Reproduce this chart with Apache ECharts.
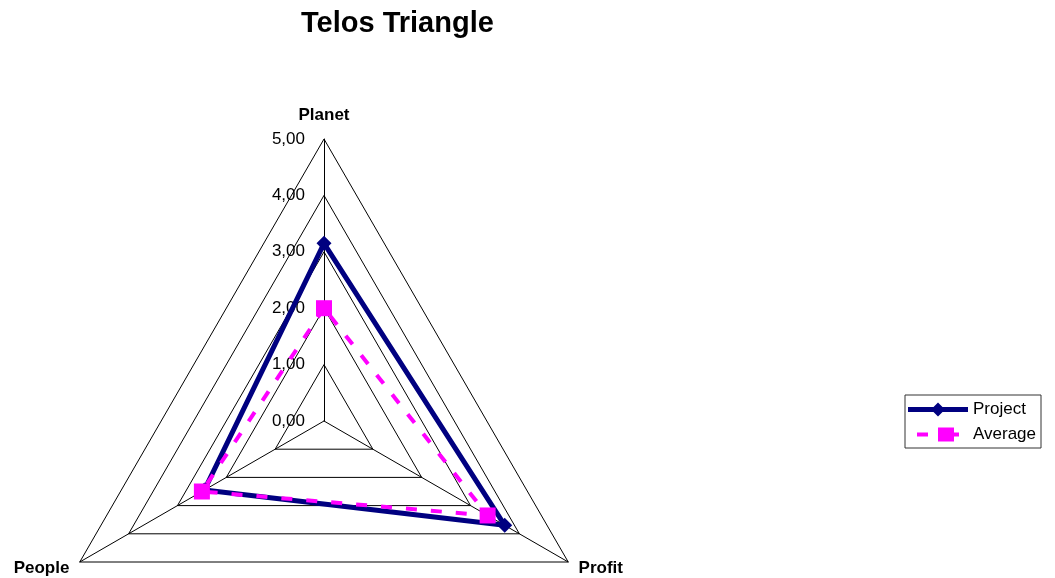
<!DOCTYPE html>
<html>
<head>
<meta charset="utf-8">
<script src="https://cdn.jsdelivr.net/npm/echarts@6/dist/echarts.min.js"></script>
<style>
  html, body { margin: 0; padding: 0; background: #fff; }
  #chart { width: 1055px; height: 578px; }
</style>
</head>
<body>
<div id="chart"></div>
<script>
// indicators in the order ECharts places them (counter-clockwise from the top)
var indicators = ['Planet', 'People', 'Profit'];
var projectValues = [3.15, 2.45, 3.7];
var averageValues = [2.0, 2.5, 3.35];
var scaleTicks = [0, 1, 2, 3, 4, 5];

// legend icons: line with marker, like the spreadsheet legend
var projectIcon = 'path://M0,4.5L60,4.5L60,9.5L0,9.5Z M30,0L37,7L30,14L23,7Z';
var averageIcon = 'path://M4,5L15,5L15,9L4,9Z M25,0L41,0L41,5L46,5L46,9L41,9L41,14L25,14Z';

var chart = echarts.init(document.getElementById('chart'));

var option = {
    backgroundColor: '#fff',
    textStyle: { fontFamily: 'Liberation Sans, Arial, sans-serif' },
    title: {
        text: 'Telos Triangle',
        left: 296,
        top: 4,
        textStyle: { fontSize: 29, fontWeight: 'bold', color: '#000' }
    },
    legend: {
        orient: 'vertical',
        left: 905,
        top: 395,
        padding: [6, 5, 5, 3],
        itemGap: 8,
        itemWidth: 60,
        itemHeight: 14,
        borderColor: '#333',
        borderWidth: 1,
        borderRadius: 0,
        textStyle: { fontSize: 17, color: '#000' },
        data: [
            { name: 'Project', icon: projectIcon },
            { name: 'Average', icon: averageIcon }
        ]
    },
    radar: {
        center: [324, 421],
        radius: 282,
        startAngle: 90,
        shape: 'polygon',
        splitNumber: 5,
        nameGap: 12,
        axisName: {
            color: '#000',
            fontWeight: 'bold',
            fontSize: 17,
            formatter: function (n) { return n === 'Planet' ? '{top|' + n + '}' : n; },
            rich: { top: { fontWeight: 'bold', fontSize: 17, padding: [0, 0, 3, 0] } }
        },
        axisLine: { lineStyle: { color: '#000', width: 1 } },
        splitLine: { lineStyle: { color: '#000', width: 1 } },
        splitArea: { show: false },
        indicator: indicators.map(function (n) { return { name: n, min: 0, max: 5 }; })
    },
    // value scale drawn along the Planet axis
    grid: { left: 324, top: 139, width: 1, height: 282, containLabel: false },
    xAxis: { type: 'value', show: false },
    yAxis: {
        type: 'value',
        min: scaleTicks[0],
        max: scaleTicks[scaleTicks.length - 1],
        interval: 1,
        axisLine: { show: false },
        axisTick: { show: false },
        splitLine: { show: false },
        axisLabel: {
            margin: 19,
            fontSize: 17,
            color: '#000',
            formatter: function (v) { return v.toFixed(2).replace('.', ','); }
        }
    },
    series: [{
        name: 'Project',
        type: 'radar',
        symbol: 'diamond',
        symbolSize: 15,
        z: 2,
        itemStyle: { color: '#000080' },
        lineStyle: { color: '#000080', width: 5 },
        data: [{ value: projectValues, name: 'Project' }]
    }, {
        name: 'Average',
        type: 'radar',
        symbol: 'rect',
        symbolSize: 16,
        z: 3,
        itemStyle: { color: '#ff00ff' },
        lineStyle: { color: '#ff00ff', width: 4, type: [11, 14] },
        data: [{ value: averageValues, name: 'Average' }]
    }]
};

chart.setOption(option);
</script>
</body>
</html>
